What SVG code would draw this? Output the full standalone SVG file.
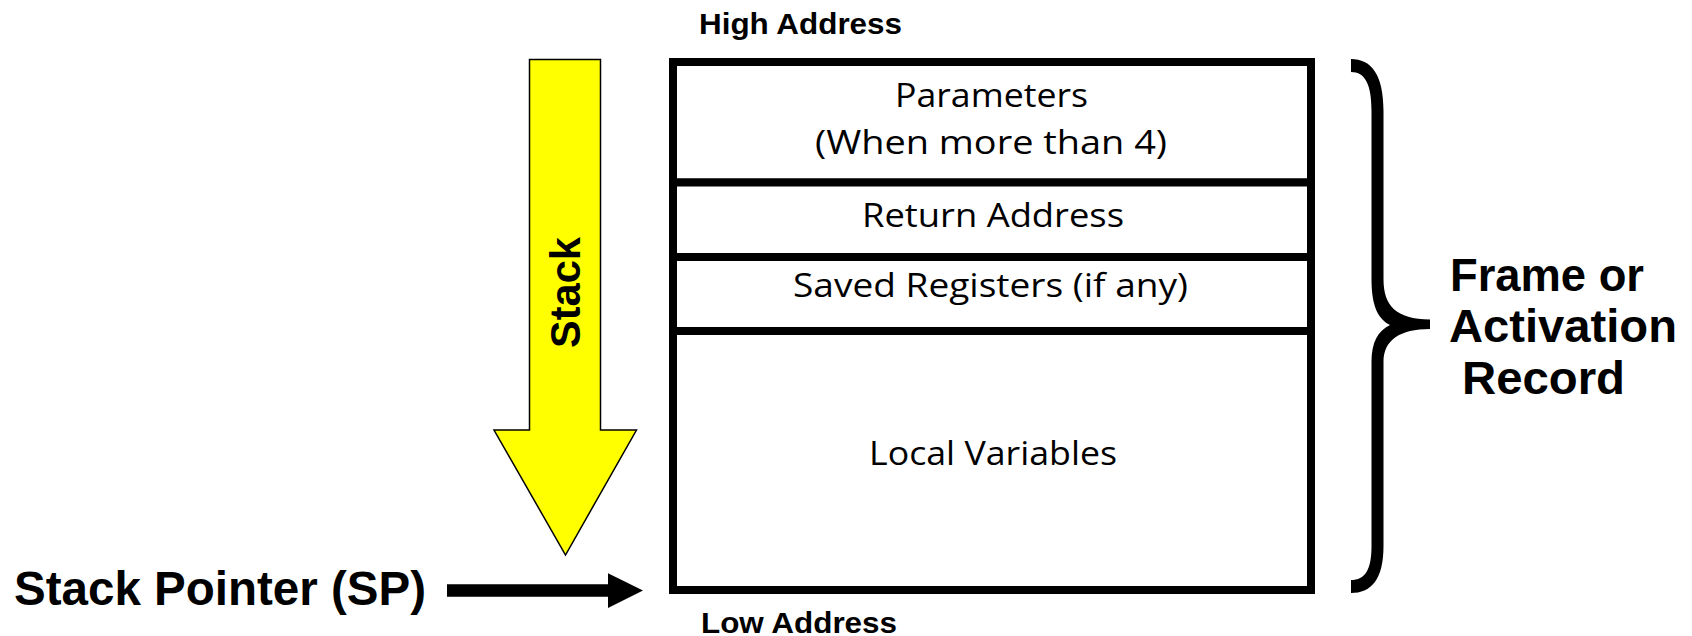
<svg xmlns="http://www.w3.org/2000/svg" width="1692" height="636" viewBox="0 0 1692 636">
  <style>
    .cell { fill: #ffffff; stroke: #000000; stroke-width: 8; }
    .cell-text { font-family: "Open Sans", "Noto Sans", sans-serif; font-size: 32px; fill: #000000; }
    .label { font-family: "Liberation Sans", Arial, sans-serif; font-weight: bold; fill: #000000; }
    .stack-arrow { fill: #ffff00; stroke: #000000; stroke-width: 1.5; stroke-linejoin: miter; }
    .pointer { fill: #000000; stroke: none; }
    .brace { fill: #000000; stroke: none; }
  </style>

  <!-- address labels -->
  <text class="label" x="699" y="34" font-size="29" textLength="203" lengthAdjust="spacingAndGlyphs">High Address</text>
  <text class="label" x="701" y="633" font-size="30" textLength="196" lengthAdjust="spacingAndGlyphs">Low Address</text>

  <!-- stack frame cells, top (high address) to bottom (low address) -->
  <g id="cell-parameters">
    <rect class="cell" x="673" y="62" width="638" height="120.5"/>
    <text class="cell-text" x="895" y="107" textLength="193" lengthAdjust="spacingAndGlyphs">Parameters</text>
    <text class="cell-text" x="815" y="154" textLength="352" lengthAdjust="spacingAndGlyphs">(When more than 4)</text>
  </g>
  <g id="cell-return-address">
    <rect class="cell" x="673" y="182.5" width="638" height="74.5"/>
    <text class="cell-text" x="862" y="227" textLength="262" lengthAdjust="spacingAndGlyphs">Return Address</text>
  </g>
  <g id="cell-saved-registers">
    <rect class="cell" x="673" y="257" width="638" height="74"/>
    <text class="cell-text" x="793" y="297" textLength="395" lengthAdjust="spacingAndGlyphs">Saved Registers (if any)</text>
  </g>
  <g id="cell-local-variables">
    <rect class="cell" x="673" y="331" width="638" height="259"/>
    <text class="cell-text" x="869" y="465" textLength="248" lengthAdjust="spacingAndGlyphs">Local Variables</text>
  </g>

  <!-- stack growth direction -->
  <g id="stack-direction">
    <polygon class="stack-arrow" points="529.5,59.5 600.5,59.5 600.5,430 636.5,430 565.5,555 494,430 529.5,430"/>
    <text class="label" font-size="42" text-anchor="middle" textLength="111" lengthAdjust="spacingAndGlyphs" transform="translate(580,292.5) rotate(-90)">Stack</text>
  </g>

  <!-- stack pointer label -->
  <g id="stack-pointer">
    <text class="label" x="14" y="605" font-size="48" textLength="412" lengthAdjust="spacingAndGlyphs">Stack Pointer (SP)</text>
  </g>

  <!-- frame / activation record label -->
  <g id="frame-label">
    <text class="label" font-size="47">
      <tspan x="1450" y="291" textLength="194" lengthAdjust="spacingAndGlyphs">Frame or</tspan>
      <tspan x="1449" y="342" textLength="228" lengthAdjust="spacingAndGlyphs">Activation</tspan>
      <tspan x="1462" y="394" textLength="163" lengthAdjust="spacingAndGlyphs">Record</tspan>
    </text>
  </g>

  <g id="connectors">
    <!-- SP arrow pointing at the bottom of the frame -->
    <path class="pointer" d="M447,584.3 L608,584.3 L608,573.3 L643,590.5 L608,608 L608,596.7 L447,596.7 Z"/>
    <!-- curly brace spanning the whole frame -->
    <path class="brace" d="M1351,59 C1371,59 1383.5,74 1383.5,111 L1383.5,279 C1383.5,306 1396,319 1430,319.5 L1430,329 C1400,329 1383.5,340 1383.5,362 L1383.5,546 C1383.5,580 1371,593 1351,593 L1351,580 C1365,580 1371.5,570 1371.5,546 L1371.5,362 C1371.5,342 1378,331 1390,325 C1378,319 1371.5,306 1371.5,279 L1371.5,111 C1371.5,84 1365,72 1351,72 Z"/>
  </g>
</svg>
